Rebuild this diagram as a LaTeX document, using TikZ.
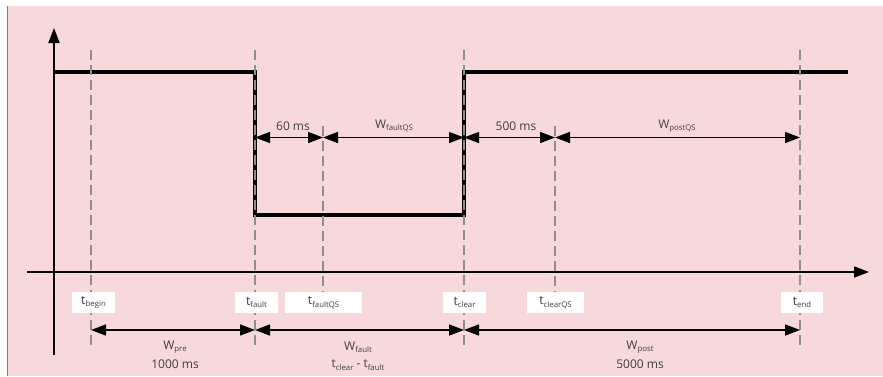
\documentclass[tikz,border=0pt]{standalone}
\usepackage{fontspec}
\setmainfont{Open Sans}
\usetikzlibrary{arrows.meta}
\definecolor{bgpink}{HTML}{F7D9DC}
\definecolor{edgered}{HTML}{E5505A}
\definecolor{dashgray}{HTML}{8E8E8E}
\definecolor{txtgray}{HTML}{3F3F3F}
\newcommand\lsub[1]{\raisebox{-2.4pt}{\fontsize{7.8}{9}\selectfont #1}}
\begin{document}
\begin{tikzpicture}[x=1pt,y=-1pt,
  axisline/.style={line width=1.8pt,-{Triangle[length=15pt,width=11pt]}},
  signal/.style={line width=4.5pt,line join=miter},
  guide/.style={dashgray,line width=1.6pt,dash pattern=on 10pt off 5pt},
  span/.style={line width=1.5pt,{Triangle[length=15pt,width=11pt]}-{Triangle[length=15pt,width=11pt]}},
  lbl/.style={text=txtgray,font=\fontsize{12}{14}\selectfont,inner sep=0pt},
  tbox/.style={fill=white,text=txtgray,font=\fontsize{12.5}{14}\selectfont,minimum height=21pt,inner sep=0pt}]
\useasboundingbox (0,0) rectangle (883,376);
\fill[white] (0,0) rectangle (883,376);
\fill[bgpink] (7,6) rectangle (883,376);
\draw[edgered,line width=1.3pt] (7.6,6) -- (7.6,376);
% axes
\coordinate (yb) at (54,355);
\coordinate (yt) at (54,28);
\coordinate (xl) at (27,272);
\coordinate (xr) at (869,272);
\draw[axisline] (yb) -- (yt);
\draw[axisline] (xl) -- (xr);
% signal
\coordinate (s0) at (54,72);
\coordinate (s1) at (255,72);
\coordinate (s2) at (255,215);
\coordinate (s3) at (464,215);
\coordinate (s4) at (464,72);
\coordinate (s5) at (848,72);
\draw[signal] (s0) -- (s1) -- (s2) -- (s3) -- (s4) -- (s5);
% guides
\coordinate (gb1) at (91,50);  \coordinate (gb2) at (91,350);
\coordinate (gf1) at (255,50); \coordinate (gf2) at (255,346);
\coordinate (gq1) at (323,126); \coordinate (gq2) at (323,292);
\coordinate (gc1) at (464,50); \coordinate (gc2) at (464,346);
\coordinate (gr1) at (555,126); \coordinate (gr2) at (555,292);
\coordinate (ge1) at (800,50); \coordinate (ge2) at (800,346);
\draw[guide] (gb1) -- (gb2);
\draw[guide] (gf1) -- (gf2);
\draw[guide] (gq1) -- (gq2);
\draw[guide] (gc1) -- (gc2);
\draw[guide] (gr1) -- (gr2);
\draw[guide] (ge1) -- (ge2);
% time labels
\node[tbox,minimum width=43pt] (tb) at (93.5,302.5) {t\lsub{begin}};
\node[tbox,minimum width=43pt] (tf) at (256.5,302.5) {t\lsub{fault}};
\node[tbox,minimum width=77pt] (tfq) at (323.5,302.5) {t\lsub{faultQS}};
\node[tbox,minimum width=43pt] (tc) at (464.5,302.5) {t\lsub{clear}};
\node[tbox,minimum width=57pt] (tcq) at (555.5,302.5) {t\lsub{clearQS}};
\node[tbox,minimum width=42pt] (te) at (802,302.5) {t\lsub{end}};
% top spans
\coordinate (a1) at (255,137.5); \coordinate (a2) at (323,137.5);
\coordinate (a3) at (464,137.5); \coordinate (a4) at (555,137.5);
\coordinate (a5) at (800,137.5);
\draw[span] (a1) -- (a2);
\draw[span] (a2) -- (a3);
\draw[span] (a3) -- (a4);
\draw[span] (a4) -- (a5);
\node[lbl] (l60) at (293,126) {60 ms};
\node[lbl] (lwfq) at (394,126) {W\lsub{faultQS}};
\node[lbl] (l500) at (516,126) {500 ms};
\node[lbl] (lwpq) at (677,126) {W\lsub{postQS}};
% bottom spans
\coordinate (b1) at (91,330); \coordinate (b2) at (255,330);
\coordinate (b3) at (464,330); \coordinate (b4) at (800,330);
\draw[span] (b1) -- (b2);
\draw[span] (b2) -- (b3);
\draw[span] (b3) -- (b4);
\node[lbl] (lwpre) at (175,347) {W\lsub{pre}};
\node[lbl] (l1000) at (175,364) {1000 ms};
\node[lbl] (lwf) at (358,347) {W\lsub{fault}};
\node[lbl] (ldiff) at (358,365) {t\lsub{clear} - t\lsub{fault}};
\node[lbl] (lwp) at (640,347) {W\lsub{post}};
\node[lbl] (l5000) at (640,364) {5000 ms};
\end{tikzpicture}
\end{document}
